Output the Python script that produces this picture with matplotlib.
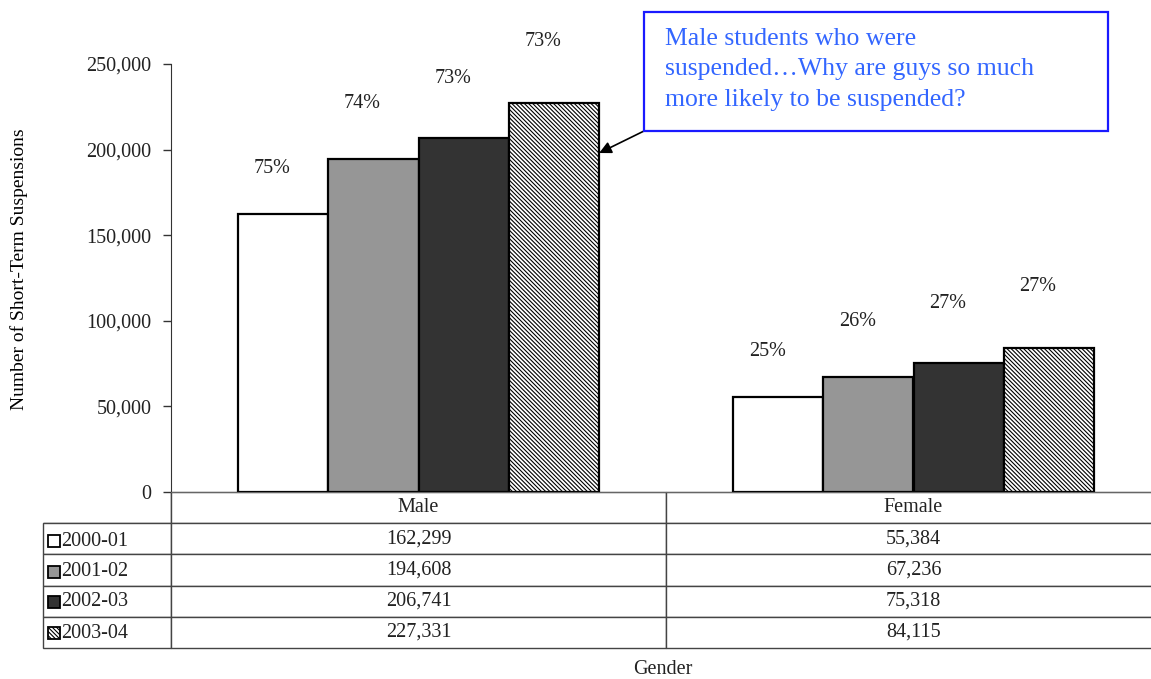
import matplotlib.pyplot as plt
from matplotlib.patches import Rectangle
from matplotlib.ticker import FuncFormatter

# Datos del gráfico
genders = ['Male', 'Female']
years = ['2000-01', '2001-02', '2002-03', '2003-04']
male_counts = [162299, 194608, 206741, 227331]
female_counts = [55384, 67236, 75318, 84115]
male_pct = ['75%', '74%', '73%', '73%']
female_pct = ['25%', '26%', '27%', '27%']

colors = ['white', '#969696', '#333333', 'white']
hatches = [None, None, None, '\\\\\\\\\\\\\\\\']
label_offsets = [33, 40, 43, 44]  # separación de las etiquetas de porcentaje (puntos)

plt.rcParams['font.family'] = ['Liberation Serif', 'DejaVu Serif']
plt.rcParams['hatch.linewidth'] = 0.8

W, H = 1151, 679
fig = plt.figure(figsize=(W / 100, H / 100), dpi=100)


def fx(px):
    return px / W


def fy(py):
    return 1 - py / H


ax = fig.add_axes([fx(171), fy(492), fx(1161) - fx(171), fy(64) - fy(492)])

width = 0.1825
for i, year in enumerate(years):
    xs = [g + (i - 1.5) * width for g in range(len(genders))]
    vals = [male_counts[i], female_counts[i]]
    ax.bar(xs, vals, width=width, color=colors[i], edgecolor='black',
           linewidth=1.6, hatch=hatches[i])
    for x, v, p in zip(xs, vals, [male_pct[i], female_pct[i]]):
        ax.annotate(p, (x - 0.022, v), xytext=(0, label_offsets[i]),
                    textcoords='offset points', ha='center', va='center',
                    fontsize=14.5, color='#222222')

ax.set_xlim(-0.5, 1.5)
ax.set_ylim(0, 250000)
ax.set_yticks(range(0, 250001, 50000))
ax.yaxis.set_major_formatter(FuncFormatter(lambda v, _: f'{int(v):,}'))
ax.tick_params(axis='y', labelsize=14.5, length=6, width=1, colors='#333333',
               labelcolor='#222222', pad=8)
ax.set_xticks([])
ax.spines['top'].set_visible(False)
ax.spines['right'].set_visible(False)
ax.spines['left'].set_color('#333333')
ax.spines['bottom'].set_color('#666666')
ax.set_ylabel('Number of Short-Term Suspensions', fontsize=14)
ax.yaxis.set_label_coords(-0.1445, 0.52)

# Tabla de datos debajo del gráfico
table = ax.table(cellText=[['', f'{m:,}', f'{f:,}'] for m, f in zip(male_counts, female_counts)],
                 colLabels=[''] + genders,
                 colWidths=[128 / 990, 0.5, 0.5],
                 cellLoc='center',
                 bbox=[-128 / 990, -(648 - 492) / 428, 1 + 128 / 990, (648 - 492) / 428])
table.auto_set_font_size(False)
table.set_fontsize(14.5)
for (r, c), cell in table.get_celld().items():
    cell.set_edgecolor('#444444')
    cell.set_linewidth(1)
    cell.get_text().set_color('#222222')
table[0, 0].visible_edges = 'BR'

# Leyenda dentro de la primera columna
row_centers = [541, 572, 602, 633]
for i, year in enumerate(years):
    yc = row_centers[i]
    fig.patches.append(Rectangle((fx(48), fy(yc + 6)), fx(12), 12 / H,
                                 transform=fig.transFigure, facecolor=colors[i],
                                 edgecolor='black', linewidth=1.3, hatch=hatches[i]))
    fig.text(fx(61), fy(yc), year, fontsize=14.5, va='center', ha='left',
             color='#222222')

fig.text(fx(663), fy(670), 'Gender', fontsize=14.5, ha='center', va='center',
         color='#222222')

# Cuadro de comentario
fig.patches.append(Rectangle((fx(644), fy(131)), fx(1108) - fx(644), (131 - 12) / H,
                             transform=fig.transFigure, facecolor='white',
                             edgecolor='#1a1aff', linewidth=1.6))
fig.text(fx(665), fy(28), 'Male students who were\nsuspended\u2026Why are guys so much\nmore likely to be suspended?',
         fontsize=18.5, color='#3366ff', ha='left', va='top', linespacing=1.5)

ax.annotate('', xy=(2 * width, 198000),
            xytext=(fx(644), fy(131)), textcoords='figure fraction',
            arrowprops=dict(arrowstyle='-|>', color='black', lw=1.2,
                            mutation_scale=18, shrinkA=0, shrinkB=0))

fig.savefig('out.png', dpi=100)
